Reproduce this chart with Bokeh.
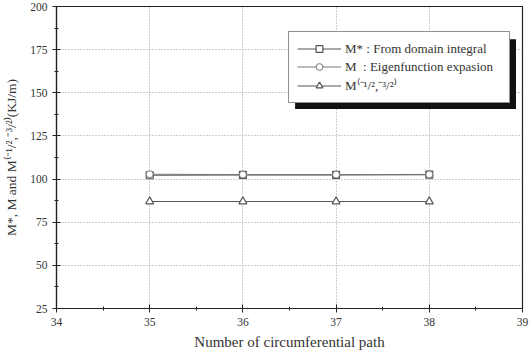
from bokeh.plotting import figure
from bokeh.models import Legend, LegendItem, BoxAnnotation, FixedTicker
from bokeh.embed import file_html
from bokeh.resources import INLINE

paths = [35, 36, 37, 38]
m_star = [102.2, 102.4, 102.4, 102.6]
m_eig = [102.8, 102.6, 102.6, 102.7]
m_j = [87.0, 87.0, 87.0, 87.0]

x_ticks = [34, 35, 36, 37, 38, 39]
y_ticks = [25, 50, 75, 100, 125, 150, 175, 200]

FONT = "Liberation Serif"
TXT = "#333333"
LINE = "#555555"

p = figure(width=530, height=356, x_range=(34, 39), y_range=(25, 200),
           output_backend="svg", toolbar_location=None,
           min_border_left=56, min_border_right=8, min_border_top=6, min_border_bottom=48)
p.background_fill_color = "white"
p.border_fill_color = "white"
p.outline_line_color = "#222222"
p.outline_line_width = 1.2

p.xaxis.ticker = FixedTicker(ticks=x_ticks, minor_ticks=[34.5, 35.5, 36.5, 37.5, 38.5])
p.yaxis.ticker = FixedTicker(ticks=y_ticks, minor_ticks=[37.5, 62.5, 87.5, 112.5, 137.5, 162.5, 187.5])

for ax in (p.xaxis, p.yaxis):
    ax.axis_line_color = "#222222"
    ax.axis_line_width = 1.2
    ax.major_tick_in = 4
    ax.major_tick_out = 4
    ax.minor_tick_in = 2
    ax.minor_tick_out = 2
    ax.major_tick_line_color = "#222222"
    ax.minor_tick_line_color = "#222222"
    ax.major_label_text_font = FONT
    ax.major_label_text_font_size = "11.5px"
    ax.major_label_text_color = TXT
    ax.axis_label_text_font = FONT
    ax.axis_label_text_font_style = "normal"
    ax.axis_label_text_color = TXT

p.xaxis.axis_label_text_font_size = "15px"
p.yaxis.axis_label_text_font_size = "13.5px"
p.xaxis.axis_label = "Number of circumferential path"
p.yaxis.axis_label = "M*, M and M\u207d\u207b\u00b9/\u00b2,\u207b\u00b3/\u00b2\u207e(KJ/m)"
p.xaxis.axis_label_standoff = 5
p.yaxis.axis_label_standoff = 8

for g in (p.xgrid, p.ygrid):
    g.grid_line_color = "#9a9a9a"
    g.grid_line_dash = "1 2"
    g.grid_line_width = 1

r1 = p.line(paths, m_star, line_color=LINE, line_width=1.2)
s1 = p.scatter(paths, m_star, marker="square", size=7, fill_color="white", line_color=LINE, line_width=1.2)
r2 = p.line(paths, m_eig, line_color="#777777", line_width=1.0)
s2 = p.scatter(paths, m_eig, marker="circle", size=7, fill_color="white", line_color="#777777", line_width=1.0)
r3 = p.line(paths, m_j, line_color=LINE, line_width=1.2)
s3 = p.scatter(paths, m_j, marker="triangle", size=8, fill_color="white", line_color=LINE, line_width=1.2)

# drop shadow of the legend box (decoration)
shadow = BoxAnnotation(left=36.56, right=38.93, top=181.0, bottom=140.6,
                       fill_color="#111111", fill_alpha=1.0, line_color=None, level="annotation")
p.add_layout(shadow)

legend = Legend(items=[
    LegendItem(label="M* : From domain integral", renderers=[r1, s1]),
    LegendItem(label="M  : Eigenfunction expasion", renderers=[r2, s2]),
    LegendItem(label="M\u207d\u207b\u00b9/\u00b2,\u207b\u00b3/\u00b2\u207e", renderers=[r3, s3]),
], location=(232, 205))
legend.label_text_font = FONT
legend.label_text_font_size = "13px"
legend.label_text_color = TXT
legend.border_line_color = "#222222"
legend.border_line_width = 1.2
legend.background_fill_alpha = 1.0
legend.padding = 8
legend.spacing = 1
legend.margin = 0
legend.glyph_width = 44
legend.glyph_height = 17
legend.label_height = 17
legend.label_width = 156
legend.label_standoff = 4
p.add_layout(legend)

open("out.html", "w").write(file_html(p, INLINE))
